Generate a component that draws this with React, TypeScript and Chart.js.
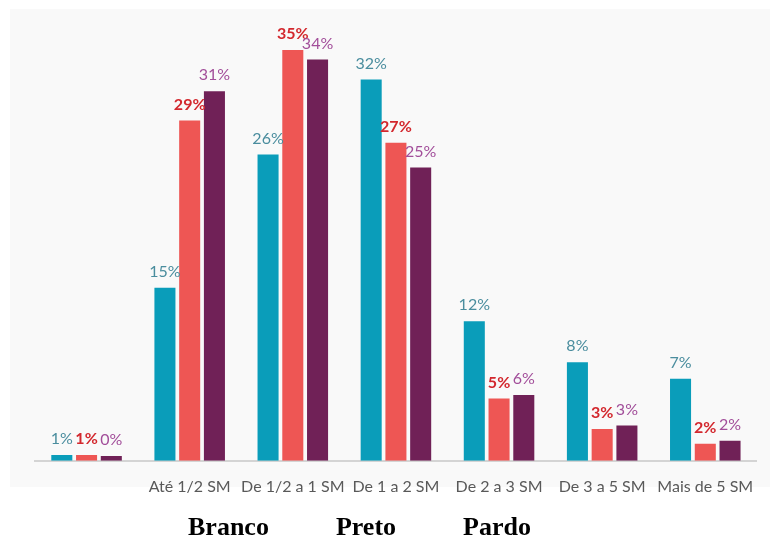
import React, { useEffect, useRef } from "react";
import { Chart, registerables } from "chart.js";

Chart.register(...registerables);

const categories = ["", "Até 1/2 SM", "De 1/2 a 1 SM", "De 1 a 2 SM", "De 2 a 3 SM", "De 3 a 5 SM", "Mais de 5 SM"];
const seriesNames = ["Branco", "Preto", "Pardo"];
const brancoValues = [0.5, 14.75, 26.1, 32.5, 11.9, 8.4, 7.0];
const pretoValues = [0.5, 29.0, 35.0, 27.1, 5.3, 2.7, 1.45];
const pardoValues = [0.4, 31.5, 34.2, 25.0, 5.6, 3.0, 1.7];
const brancoLabels = ["1%", "15%", "26%", "32%", "12%", "8%", "7%"];
const pretoLabels = ["1%", "29%", "35%", "27%", "5%", "3%", "2%"];
const pardoLabels = ["0%", "31%", "34%", "25%", "6%", "3%", "2%"];

const barColors = ["#0A9DBA", "#EE5654", "#702157"];
const labelColors = ["#4A8D9E", "#D3282E", "#A24E9A"];
const labelWeights = ["normal", "bold", "normal"];

const bgPlugin = {
  id: "bgPanel",
  beforeDraw(chart: any) {
    const ctx = chart.ctx;
    ctx.save();
    ctx.fillStyle = "#ffffff";
    ctx.fillRect(0, 0, chart.width, chart.height);
    ctx.fillStyle = "#f9f9f9";
    ctx.fillRect(10, 9, chart.width - 10, 478);
    ctx.restore();
  },
};

const labelPlugin = {
  id: "barLabels",
  afterDatasetsDraw(chart: any) {
    const ctx = chart.ctx;
    const all = [brancoLabels, pretoLabels, pardoLabels];
    chart.data.datasets.forEach((ds: any, di: number) => {
      const meta = chart.getDatasetMeta(di);
      meta.data.forEach((el: any, i: number) => {
        ctx.save();
        ctx.font = `${labelWeights[di]} 16px Lato, "Open Sans", sans-serif`;
        ctx.fillStyle = labelColors[di];
        ctx.textAlign = "center";
        ctx.textBaseline = "bottom";
        ctx.fillText(all[di][i], el.x, el.y - 8);
        ctx.restore();
      });
    });
  },
};

export default function App() {
  const ref = useRef<HTMLCanvasElement | null>(null);
  useEffect(() => {
    if (!ref.current) return;
    const chart = new Chart(ref.current, {
      type: "bar",
      data: {
        labels: categories,
        datasets: [brancoValues, pretoValues, pardoValues].map((d, i) => ({
          label: seriesNames[i],
          data: d,
          backgroundColor: barColors[i],
          borderWidth: 0,
          categoryPercentage: 0.72,
          barPercentage: 0.85,
        })),
      },
      options: {
        animation: false,
        responsive: false,
        devicePixelRatio: 1,
        layout: { padding: { top: 9, left: 35, right: 11, bottom: 8 } },
        plugins: { legend: { display: false }, tooltip: { enabled: false } },
        scales: {
          x: {
            grid: { display: false, drawTicks: false },
            border: { display: true, color: "#d4d4d4", width: 2 },
            ticks: {
              padding: 16,
              color: "#595959",
              font: { family: "Lato, 'Open Sans', sans-serif", size: 16 },
              maxRotation: 0,
              autoSkip: false,
            },
          },
          y: { display: false, min: 0, max: 38.5 },
        },
      },
      plugins: [bgPlugin, labelPlugin],
    });
    return () => chart.destroy();
  }, []);

  const legendStyle: React.CSSProperties = {
    fontFamily: "'Liberation Serif', 'Times New Roman', serif",
    fontWeight: "bold",
    fontSize: 26,
    color: "#000",
    whiteSpace: "nowrap",
  };

  return (
    <div style={{ position: "absolute", left: 0, top: 0, width: 770, height: 539, background: "#fff", overflow: "hidden" }}>
      <canvas ref={ref} width={770} height={520} style={{ display: "block", width: 770, height: 520 }} />
      <div style={{ position: "absolute", left: 188, top: 512, display: "flex", gap: 67 }}>
        {seriesNames.map((n) => (
          <span key={n} style={legendStyle}>{n}</span>
        ))}
      </div>
    </div>
  );
}
